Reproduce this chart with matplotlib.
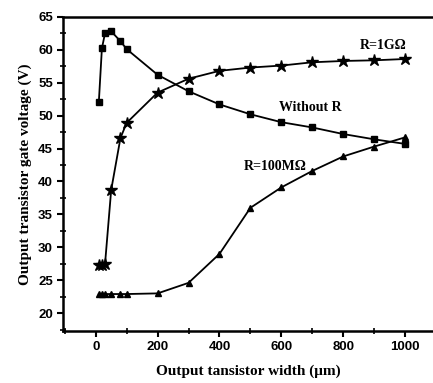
import numpy as np
import matplotlib.pyplot as plt
import matplotlib
from matplotlib.ticker import MultipleLocator

# output transistor width (um)
width = [10, 20, 30, 50, 80, 100, 200, 300, 400, 500, 600, 700, 800, 900, 1000]

# gate voltage (V) for each load
v_without_r = [52.0, 60.2, 62.5, 62.8, 61.3, 60.1, 56.2, 53.7, 51.7, 50.2, 49.0, 48.2, 47.2, 46.4, 45.7]
v_1g = [27.3, 27.3, 27.4, 38.7, 46.6, 48.9, 53.5, 55.6, 56.8, 57.3, 57.6, 58.1, 58.3, 58.4, 58.6]
v_100m = [22.9, 22.9, 22.9, 22.9, 22.9, 22.9, 23.0, 24.6, 29.0, 36.0, 39.1, 41.6, 43.8, 45.3, 46.7]

fig = plt.figure(figsize=(4.33, 3.83), dpi=100)
ax = fig.add_axes([0.146, 0.136, 0.854, 0.820])

ax.plot(width, v_without_r, 'k-s', markersize=4.5, linewidth=1.3)
ax.plot(width, v_1g, 'k-*', markersize=9, linewidth=1.3)
ax.plot(width, v_100m, 'k-^', markersize=5, linewidth=1.3)

ax.set_xlim(-105, 1090)
ax.set_ylim(17.3, 65)

ax.xaxis.set_major_locator(MultipleLocator(200))
ax.xaxis.set_minor_locator(MultipleLocator(100))
ax.yaxis.set_major_locator(MultipleLocator(5))
ax.yaxis.set_minor_locator(MultipleLocator(2.5))

ax.tick_params(which='major', direction='out', length=4, width=1.5)
ax.tick_params(which='minor', direction='inout', length=5, width=1.2)

for lab in ax.get_xticklabels() + ax.get_yticklabels():
    lab.set_fontfamily('Liberation Sans')
    lab.set_fontweight('bold')
    lab.set_fontsize(9.5)

for side in ['left', 'bottom', 'top']:
    ax.spines[side].set_linewidth(1.8)
ax.spines['right'].set_visible(False)

serif = dict(family='Liberation Serif', weight='bold')
ax.set_xlabel('Output tansistor width (\u03bcm)', fontsize=11, labelpad=8, **serif)
ax.set_ylabel('Output transistor gate voltage (V)', fontsize=11, labelpad=4, **serif)

ax.text(855, 60.7, 'R=1G\u03a9', fontsize=10, va='center', **serif)
ax.text(593, 51.2, 'Without R', fontsize=10, va='center', **serif)
ax.text(477, 42.2, 'R=100M\u03a9', fontsize=10, va='center', **serif)

plt.savefig('out.png', dpi=100)
